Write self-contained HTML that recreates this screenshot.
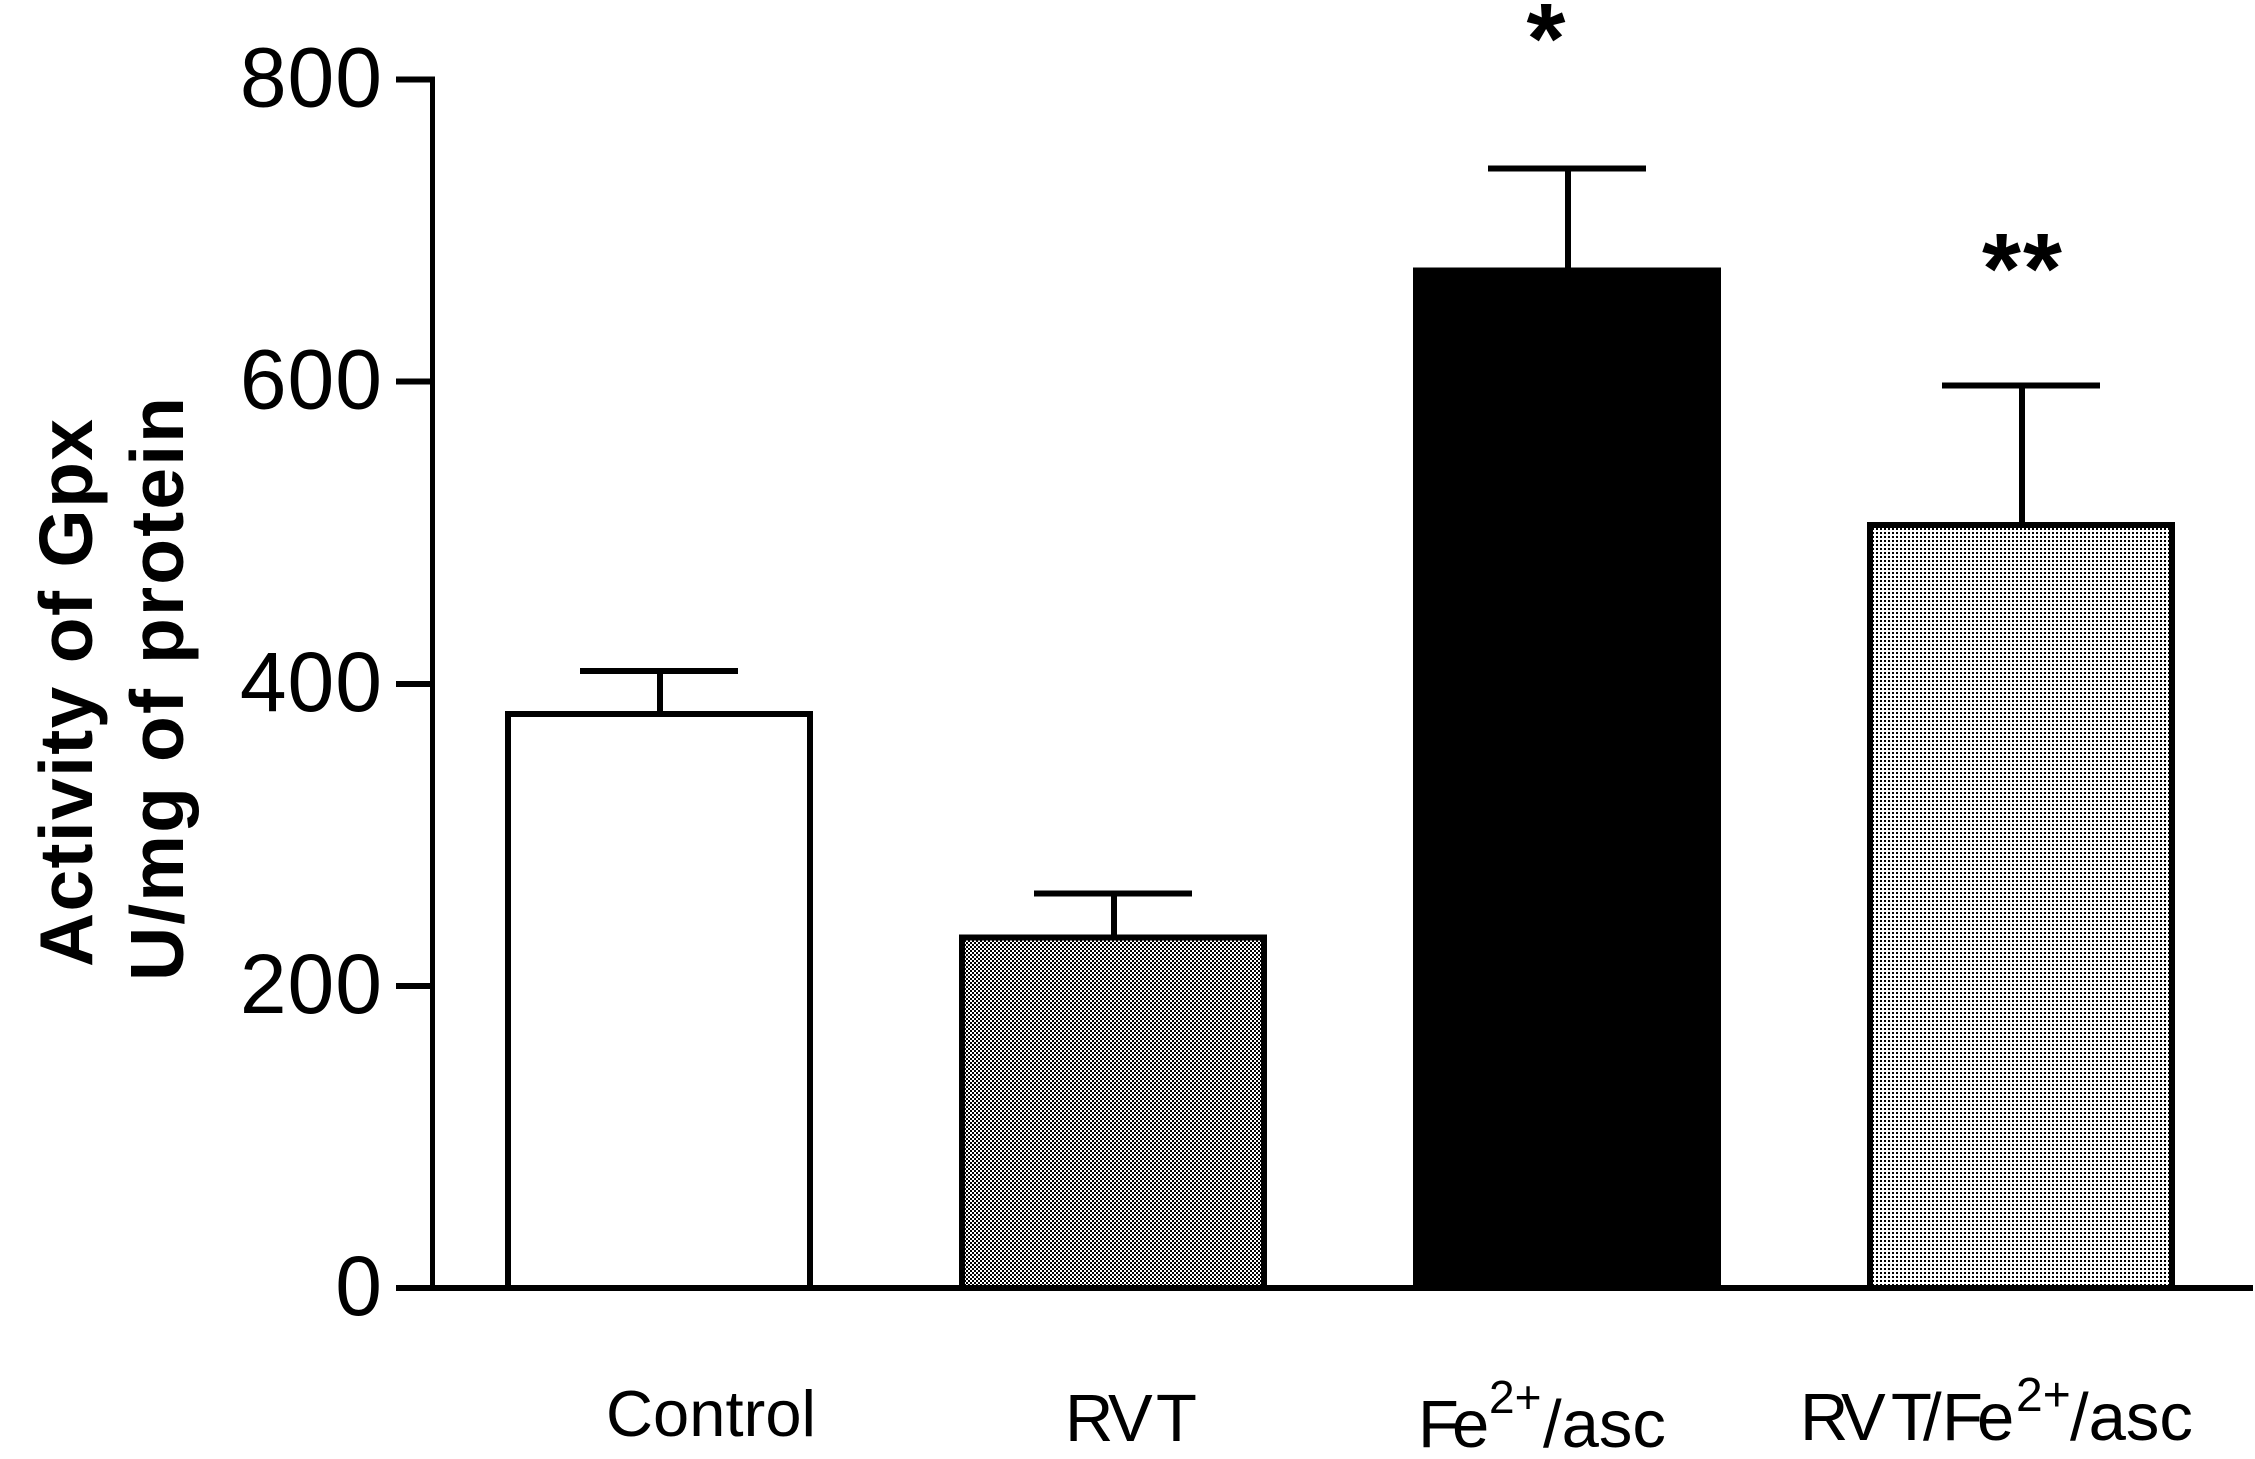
<!DOCTYPE html>
<html lang="en">
<head>
<meta charset="utf-8">
<title>Activity of Gpx</title>
<style>
  html, body { margin: 0; padding: 0; background: #fff; }
  body { width: 2255px; height: 1459px; overflow: hidden; }
  svg { display: block; }
  text { font-family: "Liberation Sans", Arial, sans-serif; fill: #000; }
</style>
</head>
<body>
<svg id="chart" xmlns="http://www.w3.org/2000/svg" width="2255" height="1459" viewBox="0 0 2255 1459">
  <defs>
    <pattern id="fill-checker" patternUnits="userSpaceOnUse" width="4" height="4">
      <rect width="4" height="4" fill="#fff"/>
      <rect x="0" y="0" width="2" height="2" fill="#000"/>
      <rect x="2" y="2" width="2" height="2" fill="#000"/>
    </pattern>
    <pattern id="fill-dots" patternUnits="userSpaceOnUse" width="4" height="4">
      <rect width="4" height="4" fill="#fff"/>
      <rect x="0" y="0" width="2" height="2" fill="#000"/>
    </pattern>
  </defs>
  <rect width="2255" height="1459" fill="#fff"/>

  <g id="bars"></g>
  <g id="y-axis"></g>

  <text transform="translate(92 967) rotate(-90)" font-size="75" font-weight="700" textLength="548" lengthAdjust="spacing">Activity of Gpx</text>
  <text transform="translate(183 981) rotate(-90)" font-size="75" font-weight="700" textLength="584" lengthAdjust="spacing">U/mg of protein</text>

  <text x="606" y="1436" font-size="65" textLength="210" lengthAdjust="spacing">Control</text>
  <text x="1065 1108 1156" y="1441" font-size="67">RVT</text>

  <g>
    <text x="1418 1452" y="1447" font-size="67">Fe</text>
    <text x="1489" y="1413" font-size="46">2+</text>
    <text x="1543" y="1447" font-size="67">/asc</text>
  </g>
  <g>
    <text x="1800 1841 1891 1923 1942 1977" y="1440" font-size="67">RVT/Fe</text>
    <text x="2016" y="1411" font-size="48">2+</text>
    <text x="2070" y="1440" font-size="67">/asc</text>
  </g>

  <text x="1526.5" y="73" font-size="100" font-weight="700">*</text>
  <text x="1982 2023" y="303" font-size="100" font-weight="700">**</text>

  <script>
    const categories = ['Control', 'RVT', 'Fe2+/asc', 'RVT/Fe2+/asc'];
    const values = [380, 232, 673.5, 505];
    const errors = [28.5, 29, 67.5, 92.5];
    const yTicks = [0, 200, 400, 600, 800];
    const yTickLabels = ['0', '200', '400', '600', '800'];
    const barFills = ['#fff', 'url(#fill-checker)', '#000', 'url(#fill-dots)'];

    const NS = 'http://www.w3.org/2000/svg';

    function yScale(v) { return 1288 - v * 1.5106; }
    function xCenter(i) { return 659 + 454 * i; }

    function makeLine(parent, x1, y1, x2, y2, width) {
      const l = document.createElementNS(NS, 'line');
      l.setAttribute('x1', x1);
      l.setAttribute('y1', y1);
      l.setAttribute('x2', x2);
      l.setAttribute('y2', y2);
      l.setAttribute('stroke', '#000');
      l.setAttribute('stroke-width', width);
      l.setAttribute('shape-rendering', 'crispEdges');
      parent.appendChild(l);
      return l;
    }

    const barsGroup = document.getElementById('bars');
    const yAxisGroup = document.getElementById('y-axis');

    categories.forEach(function (cat, i) {
      const slug = cat.toLowerCase().replace(/[^a-z0-9]+/g, '-').replace(/-$/, '');
      const cx = xCenter(i);
      const top = yScale(values[i]);
      const tip = yScale(values[i] + errors[i]);

      const stem = makeLine(barsGroup, cx + 1, top, cx + 1, tip, 6);
      
      

      const cap = makeLine(barsGroup, cx - 79, tip, cx + 79, tip, 6);
      
      

      const bar = document.createElementNS(NS, 'rect');
      bar.setAttribute('x', cx - 151);
      bar.setAttribute('y', top);
      bar.setAttribute('width', 302);
      bar.setAttribute('height', yScale(0) - top);
      bar.setAttribute('fill', barFills[i]);
      bar.setAttribute('stroke', '#000');
      bar.setAttribute('stroke-width', 6);
      bar.setAttribute('shape-rendering', 'crispEdges');
      
      
      barsGroup.appendChild(bar);
    });

    const axisLine = makeLine(yAxisGroup, 432.5, yScale(800) - 3, 432.5, yScale(0), 5);
    
    

    const baseLine = makeLine(yAxisGroup, 396, yScale(0), 2253, yScale(0), 6);
    
    

    yTicks.forEach(function (t, i) {
      const tick = makeLine(yAxisGroup, 396, yScale(t), 433, yScale(t), 6);
      
      

      const label = document.createElementNS(NS, 'text');
      label.setAttribute('x', 383);
      label.setAttribute('y', yScale(t) + 27);
      label.setAttribute('font-size', 84);
      label.setAttribute('letter-spacing', 1);
      label.setAttribute('text-anchor', 'end');
      label.textContent = yTickLabels[i];
      
      
      yAxisGroup.appendChild(label);
    });
  </script>
</svg>
</body>
</html>
